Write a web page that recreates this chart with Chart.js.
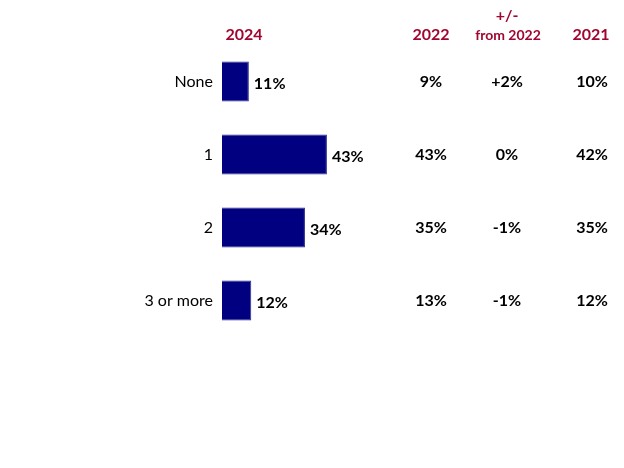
<!DOCTYPE html>
<html>
<head>
<meta charset="utf-8">
<script src="https://cdn.jsdelivr.net/npm/chart.js@4"></script>
<style>
  html, body { margin: 0; padding: 0; background: #fff; }
  #wrap { width: 624px; height: 468px; }
</style>
</head>
<body>
<div id="wrap"><canvas id="chart" width="624" height="468"></canvas></div>
<script>
// data
const categories = ['None', '1', '2', '3 or more'];
const values2024 = [11, 43, 34, 12];
const values2022 = [9, 43, 35, 13];
const change = ['+2%', '0%', '-1%', '-1%'];
const values2021 = [10, 42, 35, 12];

const RED = '#A0062F';
const FONT = 'Lato, "Open Sans", sans-serif';

// draws the value labels, the comparison columns and the headers
const tablePlugin = {
  id: 'table',
  afterDatasetsDraw(chart) {
    const ctx = chart.ctx;
    const yScale = chart.scales.y;
    const meta = chart.getDatasetMeta(0);
    ctx.save();
    ctx.textBaseline = 'middle';

    // bar end labels
    ctx.fillStyle = '#000';
    ctx.font = 'bold 16px ' + FONT;
    ctx.textAlign = 'left';
    meta.data.forEach((bar, i) => {
      ctx.fillText(values2024[i] + '%', bar.x + 5, bar.y + 2);
    });

    // comparison columns
    ctx.textAlign = 'center';
    categories.forEach((c, i) => {
      const y = yScale.getPixelForValue(i);
      ctx.fillText(values2022[i] + '%', 431, y);
      ctx.fillText(change[i], 507, y);
      ctx.fillText(values2021[i] + '%', 592, y);
    });

    // headers
    ctx.fillStyle = RED;
    ctx.font = 'bold 16px ' + FONT;
    ctx.fillText('2024', 244, 35);
    ctx.fillText('2022', 431, 35);
    ctx.fillText('2021', 591, 35);
    ctx.fillText('+/-', 507, 16);
    ctx.font = 'bold 14px ' + FONT;
    ctx.fillText('from 2022', 508, 35);
    ctx.restore();
  }
};

new Chart(document.getElementById('chart'), {
  type: 'bar',
  data: {
    labels: categories,
    datasets: [{
      data: values2024,
      backgroundColor: '#000080',
      borderColor: '#2B2B8C',
      borderWidth: 1,
      categoryPercentage: 1,
      barPercentage: 0.55
    }]
  },
  options: {
    indexAxis: 'y',
    responsive: false,
    animation: false,
    layout: { padding: { top: 45, bottom: 131, right: 158, left: 0 } },
    plugins: {
      legend: { display: false },
      tooltip: { enabled: false }
    },
    scales: {
      x: {
        display: false,
        min: 0,
        max: 100
      },
      y: {
        grid: { display: false, drawTicks: false },
        border: { display: false },
        ticks: {
          color: '#000',
          padding: 9,
          font: { family: FONT, size: 16 }
        },
        afterFit(scale) { scale.width = 222; }
      }
    }
  },
  plugins: [tablePlugin]
});
</script>
</body>
</html>
